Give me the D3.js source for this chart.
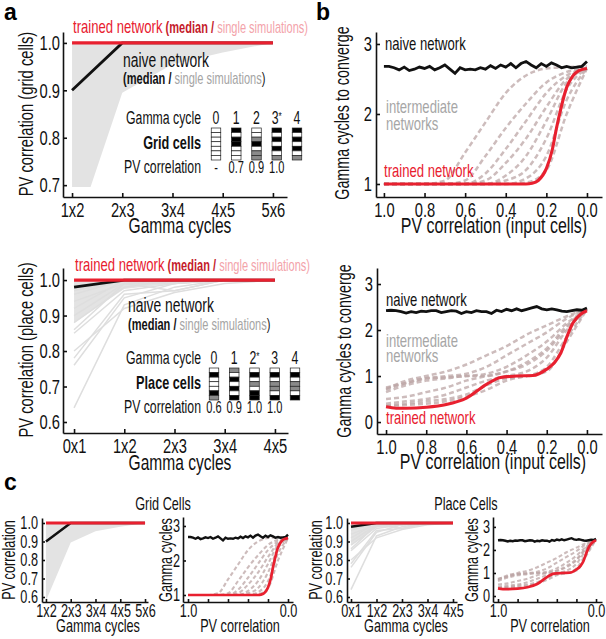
<!DOCTYPE html>
<html><head><meta charset="utf-8">
<script src="https://cdn.jsdelivr.net/npm/d3@7"></script>
<style>
body{margin:0;background:#fff}
svg{font-family:"Liberation Sans",Arial,sans-serif}
</style></head><body><svg id="c" width="606" height="639"></svg>
<script>
// ---------------- DATA ----------------
const cycleIndex = [0,1,2,3,4];
const gridCycleLabels = ["1x2","2x3","3x4","4x5","5x6"];
const placeCycleLabels = ["0x1","1x2","2x3","3x4","4x5"];
const gridTrained = [1.0,1.0,1.0,1.0,1.0];
const gridNaiveMedian = [0.90,1.0,1.0,1.0,1.0];
const gridSingleLow = [0.58,0.895,0.955,0.98,1.0];
const gridSingleHigh = [1.0,1.0,1.0,1.0,1.0];
const placeTrained = [1.0,1.0,1.0,1.0,1.0];
const placeNaiveMedian = [0.98,1.0,1.0,1.0,1.0];
const placeSingleLow = [0.88,0.975,0.99,1.0,1.0];
const placeSingleSims = [
  [0.64,0.93,0.98,1.0,1.0],
  [0.76,0.95,0.99,1.0,1.0],
  [0.78,0.96,0.97,1.0,1.0],
  [0.80,0.92,0.965,0.99,1.0],
  [0.85,0.97,0.99,1.0,1.0],
  [0.86,0.99,0.99,1.0,1.0],
  [0.88,0.98,1.0,1.0,1.0],
  [0.90,0.99,0.97,1.0,1.0],
  [0.92,1.0,1.0,1.0,1.0],
  [0.94,0.99,1.0,1.0,1.0],
  [0.96,1.0,1.0,1.0,1.0],
  [0.97,1.0,0.99,1.0,1.0]
];
const pvTicks = [1.0,0.8,0.6,0.4,0.2,0.0];
const pvCoarse = [1.0,0.9,0.8,0.7,0.6,0.5,0.4,0.3,0.2,0.1,0.0];
const pvFine = [1.0,0.975,0.95,0.925,0.9,0.875,0.85,0.825,0.8,0.775,0.75,0.725,0.7,0.675,0.65,0.625,0.6,0.575,0.55,0.525,0.5,0.475,0.45,0.425,0.4,0.375,0.35,0.325,0.3,0.275,0.25,0.225,0.2,0.175,0.15,0.125,0.1,0.075,0.05,0.025,0.0];
const gridNaiveConv = [2.68,2.68,2.66,2.63,2.67,2.62,2.64,2.67,2.65,2.68,2.63,2.66,2.70,2.64,2.58,2.66,2.63,2.64,2.63,2.66,2.64,2.69,2.65,2.70,2.67,2.72,2.66,2.72,2.75,2.70,2.66,2.72,2.68,2.73,2.70,2.66,2.68,2.66,2.67,2.68,2.75];
const placeNaiveConv = [2.42,2.43,2.42,2.40,2.37,2.40,2.38,2.41,2.40,2.42,2.42,2.38,2.40,2.42,2.41,2.36,2.40,2.38,2.42,2.40,2.40,2.36,2.43,2.40,2.45,2.42,2.46,2.42,2.45,2.48,2.51,2.46,2.44,2.46,2.44,2.41,2.40,2.42,2.44,2.43,2.48];
const gridTrainedPV = [1.0,0.8,0.6,0.4,0.3,0.27,0.24,0.2,0.17,0.15,0.13,0.1,0.07,0.04,0.0];
const gridTrainedConv = [1.0,1.0,1.0,1.0,1.0,1.01,1.05,1.22,1.5,1.8,2.06,2.38,2.54,2.62,2.65];
const placeTrainedPV = [1.0,0.95,0.9,0.8,0.7,0.6,0.5,0.43,0.35,0.27,0.2,0.16,0.13,0.1,0.07,0.03,0.0];
const placeTrainedConv = [0.33,0.30,0.30,0.32,0.38,0.52,0.82,0.97,1.0,1.01,1.15,1.3,1.5,1.85,2.15,2.35,2.42];
const gridIntermediate = [
  [1.0,1.0,1.0,1.05,1.45,1.88,2.3,2.55,2.65,2.67,2.68],
  [1.0,1.0,1.0,1.0,1.05,1.4,1.8,2.15,2.45,2.6,2.66],
  [1.0,1.0,1.0,1.0,1.0,1.15,1.5,1.9,2.3,2.55,2.65],
  [1.0,1.0,1.0,1.0,1.0,1.05,1.3,1.65,2.1,2.5,2.65],
  [1.0,1.0,1.0,1.0,1.0,1.0,1.12,1.4,1.9,2.45,2.65],
  [1.0,1.0,1.0,1.0,1.0,1.0,1.05,1.2,1.65,2.35,2.65],
  [1.0,1.0,1.0,1.0,1.0,1.0,1.0,1.08,1.4,2.2,2.65],
  [1.0,1.0,1.0,1.0,1.0,1.0,1.0,1.02,1.2,2.0,2.65]
];
const placeIntermediate = [
  [0.72,0.9,1.0,1.1,1.25,1.45,1.65,1.9,2.1,2.3,2.45],
  [0.7,0.85,0.95,1.0,1.05,1.2,1.45,1.7,1.95,2.25,2.45],
  [0.75,0.85,0.95,0.97,1.0,1.05,1.2,1.45,1.75,2.15,2.45],
  [0.65,0.8,0.9,0.95,1.0,1.0,1.1,1.25,1.55,2.05,2.45],
  [0.5,0.55,0.65,0.75,0.9,1.0,1.1,1.3,1.6,2.1,2.45],
  [0.4,0.45,0.5,0.6,0.75,0.9,1.0,1.1,1.4,2.0,2.45],
  [0.35,0.4,0.45,0.5,0.6,0.8,0.95,1.0,1.2,1.85,2.45],
  [0.35,0.37,0.4,0.45,0.55,0.7,0.9,1.0,1.1,1.75,2.45]
];
const insetCycleLabels = ["0","1","2","3","4"];
const gridStarIndex = 3;
const placeStarIndex = 2;
const gridInsetPV = ["-","0.7","0.9","1.0",""];
const placeInsetPV = ["0.6","0.9","1.0","1.0",""];
// 0 = silent (white), 1 = active (black), 2 = partly active (grey)
const gridCellPatterns = [
  [0,0,0,0,0,0,0],
  [1,0,1,1,0,0,0],
  [0,0,2,1,0,2,2],
  [1,0,1,0,1,0,2],
  [1,0,1,0,1,0,2]
];
const placeCellPatterns = [
  [0,1,0,0,0,1,2],
  [2,0,1,0,1,0,1],
  [0,1,0,2,0,1,1],
  [0,1,0,2,2,0,1],
  [0,1,0,2,2,0,1]
];

// ---------------- STYLE ----------------
const RED = "#e8202f", DARKRED = "#c41a2a", PINK = "#f3a3aa", GREYFILL = "#e3e3e3", GREYLINE = "#dedede";
const DASH = "#bca5a5", INK = "#111";
const S = 1.17;          // font enlargement (tall narrow typeface)
const K = 0.70;          // horizontal condensing of glyphs
const svg = d3.select("#c");

function panel(o){
  const x = d3.scaleLinear().domain(o.xd).range(o.xr);
  const y = d3.scaleLinear().domain(o.yd).range(o.yr);
  const cid = "clip" + o.id;
  const cb = o.clipBottom || o.yr[0];
  svg.append("clipPath").attr("id", cid).append("rect")
    .attr("x", o.xr[0]).attr("y", o.yr[1] - 3)
    .attr("width", o.xr[1] - o.xr[0] + 2).attr("height", cb - o.yr[1] + 3);
  const plot = svg.append("g").attr("clip-path", `url(#${cid})`);
  const xa = svg.append("g").attr("transform", `translate(0,${o.yr[0]})`)
    .call(d3.axisBottom(x).tickValues(o.xt).tickFormat(o.xf)
      .tickSizeInner(-o.tick).tickSizeOuter(0).tickPadding(o.xpad));
  const ya = svg.append("g").attr("transform", `translate(${o.xr[0]},0)`)
    .call(d3.axisLeft(y).tickValues(o.yt).tickFormat(o.yf)
      .tickSizeInner(-o.tick).tickSizeOuter(0).tickPadding(o.ypad));
  [xa, ya].forEach(a => {
    a.attr("font-family", null).attr("font-size", o.fs * S);
    a.selectAll("path,line").attr("stroke", INK).attr("stroke-width", 1.6);
    a.selectAll("text").attr("fill", INK);
  });
  return {x, y, plot};
}
function text(x, y, s, size, opts = {}){
  const t = svg.append("text").attr("x", x).attr("y", y).attr("font-size", size * S)
    .attr("fill", opts.fill || INK).attr("text-anchor", opts.anchor || "start")
    .attr("font-weight", opts.weight || null).text(s);
  if (opts.rotate) t.attr("transform", `rotate(-90,${x},${y})`);
  return t;
}
function span(t, s, size, fill, weight){
  return t.append("tspan").attr("font-size", size * S).attr("fill", fill).attr("font-weight", weight || "normal").text(s);
}

function drawCyclePanel(P, low, high, median, trained, sims){
  const area = d3.area().x((d,i)=>P.x(cycleIndex[i])).y0((d,i)=>P.y(low[i])).y1((d,i)=>P.y(high[i]));
  P.plot.append("path").datum(low).attr("d", area).attr("fill", GREYFILL);
  const line = d3.line().x((d,i)=>P.x(cycleIndex[i])).y(d=>P.y(d));
  if (sims) sims.forEach(s => P.plot.append("path").datum(s).attr("d", line)
      .attr("fill","none").attr("stroke", GREYLINE).attr("stroke-width", 1.5));
  P.plot.append("path").datum(median).attr("d", line).attr("fill","none").attr("stroke", INK).attr("stroke-width", P.lw);
  P.plot.append("path").datum(trained).attr("d", line).attr("fill","none").attr("stroke", RED).attr("stroke-width", P.lw + 0.5);
}
function drawConvPanel(P, inter, naive, trPV, trVal){
  const lineC = d3.line().curve(d3.curveMonotoneX).x((d,i)=>P.x(pvCoarse[i])).y(d=>P.y(d));
  inter.forEach(s => P.plot.append("path").datum(s).attr("d", lineC).attr("fill","none")
      .attr("stroke", DASH).attr("stroke-opacity", 0.75).attr("stroke-width", P.lw - 0.3)
      .attr("stroke-dasharray", P.dash));
  const lineF = d3.line().x((d,i)=>P.x(pvFine[i])).y(d=>P.y(d));
  P.plot.append("path").datum(naive).attr("d", lineF).attr("fill","none").attr("stroke", INK).attr("stroke-width", P.lw);
  const lineT = d3.line().curve(d3.curveMonotoneX).x((d,i)=>P.x(trPV[i])).y(d=>P.y(d));
  P.plot.append("path").datum(trVal).attr("d", lineT).attr("fill","none").attr("stroke", RED).attr("stroke-width", P.lw + 0.3);
}
function drawInset(cx0, cx1, top, bottom, patterns, star, pvLabels, labelY, rowLabel, pvY){
  const col = d3.scalePoint().domain(cycleIndex).range([cx0, cx1]);
  const row = d3.scaleBand().domain(d3.range(patterns[0].length)).range([top, bottom]);
  const w = 9.5;
  const fills = ["#fff", "#000", "#8a8a8a"];
  patterns.forEach((p, ci) => {
    const g = svg.append("g");
    p.forEach((v, ri) => g.append("rect").attr("x", col(ci) - w/2).attr("y", row(ri))
      .attr("width", w).attr("height", row.bandwidth()).attr("fill", fills[v])
      .attr("stroke", "#222").attr("stroke-width", 0.7));
    const t = text(col(ci), labelY, insetCycleLabels[ci], 15, {anchor:"middle"});
    if (ci === star) t.append("tspan").attr("font-size", 10 * S).attr("dy", -4).text("*");
    text(col(ci), pvY, pvLabels[ci], 13.5, {anchor:"middle"});
  });
  text(201, labelY, "Gamma cycle", 15, {anchor:"end"});
  text(201, (top + bottom)/2 + 5, rowLabel, 15.5, {anchor:"end", weight:"bold"});
  text(201, pvY, "PV correlation", 15, {anchor:"end"});
}
const f1 = d3.format(".1f");

// ---------------- PANEL a (top) ----------------
const A1 = panel({id:"a1", xd:[-0.18,4.28], xr:[63,287], yd:[0.675,1.023], yr:[197,32], clipBottom:187,
  xt:cycleIndex, xf:i=>gridCycleLabels[i], yt:[0.7,0.8,0.9,1.0], yf:f1, tick:4, xpad:5, ypad:3, fs:18});
A1.lw = 2.8;
drawCyclePanel(A1, gridSingleLow, gridSingleHigh, gridNaiveMedian, gridTrained, null);
text(33, 114, "PV correlation (grid cells)", 18, {anchor:"middle", rotate:true});
text(180, 233, "Gamma cycles", 19, {anchor:"middle"});
const tr1 = text(73, 33, "trained network", 16, {fill:RED});
span(tr1, " (median /", 13.5, DARKRED, "bold");
span(tr1, " single simulations)", 13.5, PINK);
text(123, 67, "naive network", 17);
const nv1 = text(123, 84, "(median / ", 13.5, {weight:"bold"});
span(nv1, "single simulations", 13.5, "#a5a5a5");
span(nv1, ")", 13.5, INK);
drawInset(216, 297, 128, 160, gridCellPatterns, gridStarIndex, gridInsetPV, 124, "Grid cells", 173);

// ---------------- PANEL a (bottom) ----------------
const A2 = panel({id:"a2", xd:[-0.22,4.26], xr:[63,288], yd:[0.569,1.034], yr:[433,268],
  xt:cycleIndex, xf:i=>placeCycleLabels[i], yt:[0.6,0.7,0.8,0.9,1.0], yf:f1, tick:4, xpad:5, ypad:3, fs:18});
A2.lw = 2.8;
drawCyclePanel(A2, placeSingleLow, gridSingleHigh, placeNaiveMedian, placeTrained, placeSingleSims);
text(33, 350, "PV correlation (place cells)", 18, {anchor:"middle", rotate:true});
text(180, 470, "Gamma cycles", 19, {anchor:"middle"});
const tr2 = text(75, 271, "trained network", 16, {fill:RED});
span(tr2, " (median /", 13.5, DARKRED, "bold");
span(tr2, " single simulations)", 13.5, PINK);
text(128, 312, "naive network", 17);
const nv2 = text(128, 330, "(median / ", 13.5, {weight:"bold"});
span(nv2, "single simulations", 13.5, "#a5a5a5");
span(nv2, ")", 13.5, INK);
drawInset(214, 295, 368, 400, placeCellPatterns, placeStarIndex, placeInsetPV, 364, "Place cells", 413);

// ---------------- PANEL b (top) ----------------
const B1 = panel({id:"b1", xd:[1.039,-0.074], xr:[376,602], yd:[0.814,3.171], yr:[197,32],
  xt:pvTicks, xf:f1, yt:[1,2,3], yf:d3.format("d"), tick:4, xpad:5, ypad:4, fs:18});
B1.lw = 2.8; B1.dash = "5,3";
drawConvPanel(B1, gridIntermediate, gridNaiveConv, gridTrainedPV, gridTrainedConv);
text(349, 113, "Gamma cycles  to converge", 17.5, {anchor:"middle", rotate:true});
text(494, 233, "PV correlation (input cells)", 19.5, {anchor:"middle"});
text(385, 50, "naive network", 16);
text(386, 113, "intermediate", 16, {fill:"#a6a6a6"});
text(386, 130, "networks", 16, {fill:"#a6a6a6"});
text(384, 177, "trained network", 16, {fill:RED});

// ---------------- PANEL b (bottom) ----------------
const B2 = panel({id:"b2", xd:[1.045,-0.075], xr:[377,602], yd:[-0.26,3.348], yr:[434,268],
  xt:pvTicks, xf:f1, yt:[0,1,2,3], yf:d3.format("d"), tick:4, xpad:5, ypad:4, fs:18});
B2.lw = 2.8; B2.dash = "5,3";
drawConvPanel(B2, placeIntermediate, placeNaiveConv, placeTrainedPV, placeTrainedConv);
text(351, 351, "Gamma cycles  to converge", 17.5, {anchor:"middle", rotate:true});
text(493, 469, "PV correlation (input cells)", 19.5, {anchor:"middle"});
text(386, 306, "naive network", 16);
text(386, 347, "intermediate", 16, {fill:"#a6a6a6"});
text(386, 362, "networks", 16, {fill:"#a6a6a6"});
text(386, 424, "trained network", 16, {fill:RED});

// ---------------- PANEL c ----------------
const C1 = panel({id:"c1", xd:[-0.16,4.12], xr:[42,148], yd:[0.573,1.027], yr:[602,518],
  xt:cycleIndex, xf:i=>gridCycleLabels[i], yt:[0.6,0.7,0.8,0.9,1.0], yf:f1, tick:3, xpad:2, ypad:4, fs:15.5});
C1.lw = 2.4;
drawCyclePanel(C1, gridSingleLow, gridSingleHigh, gridNaiveMedian, gridTrained, null);
const C2 = panel({id:"c2", xd:[1.05,-0.05], xr:[183,293], yd:[0.797,3.26], yr:[602,517],
  xt:pvTicks, xf:d=>(d===1||d===0)?f1(d):"", yt:[1,2,3], yf:d3.format("d"), tick:3, xpad:2, ypad:3, fs:15.5});
C2.lw = 2.4; C2.dash = "4,2.5";
drawConvPanel(C2, gridIntermediate, gridNaiveConv, gridTrainedPV, gridTrainedConv);
const C3 = panel({id:"c3", xd:[-0.157,4.157], xr:[347,457], yd:[0.573,1.027], yr:[602,518],
  xt:cycleIndex, xf:i=>placeCycleLabels[i], yt:[0.6,0.7,0.8,0.9,1.0], yf:f1, tick:3, xpad:2, ypad:4, fs:15.5});
C3.lw = 2.4;
drawCyclePanel(C3, placeSingleLow, gridSingleHigh, placeNaiveMedian, placeTrained, placeSingleSims);
const C4 = panel({id:"c4", xd:[1.051,-0.061], xr:[493,602], yd:[-0.26,3.43], yr:[602,517],
  xt:pvTicks, xf:d=>(d===1||d===0)?f1(d):"", yt:[0,1,2,3], yf:d3.format("d"), tick:3, xpad:2, ypad:3, fs:15.5});
C4.lw = 2.4; C4.dash = "4,2.5";
drawConvPanel(C4, placeIntermediate, placeNaiveConv, placeTrainedPV, placeTrainedConv);

text(163, 510, "Grid Cells", 15.5, {anchor:"middle"});
text(466, 510, "Place Cells", 15.5, {anchor:"middle"});
text(15, 560, "PV correlation", 15.5, {anchor:"middle", rotate:true});
text(98, 632, "Gamma cycles", 15.5, {anchor:"middle"});
text(172, 560, "Gamma cycles", 15.5, {anchor:"middle", rotate:true});
text(240, 632, "PV correlation", 15.5, {anchor:"middle"});
text(322, 560, "PV correlation", 15.5, {anchor:"middle", rotate:true});
text(406, 632, "Gamma cycles", 15.5, {anchor:"middle"});
text(478, 560, "Gamma cycles", 15.5, {anchor:"middle", rotate:true});
text(550, 632, "PV correlation", 15.5, {anchor:"middle"});

// condense every label horizontally (around its anchor) to mimic a narrow typeface
svg.selectAll("text").each(function(){
  const el = d3.select(this);
  const x = +(el.attr("x") || 0);
  const tr = el.attr("transform") || "";
  el.attr("transform", `${tr} matrix(${K},0,0,1,${x*(1-K)},0)`.trim());
});

// panel letters (regular width)
svg.append("text").attr("x", 4).attr("y", 20).attr("font-size", 23).attr("font-weight", "bold").text("a");
svg.append("text").attr("x", 316).attr("y", 20).attr("font-size", 23).attr("font-weight", "bold").text("b");
svg.append("text").attr("x", 4).attr("y", 490).attr("font-size", 23).attr("font-weight", "bold").text("c");
</script></body></html>
